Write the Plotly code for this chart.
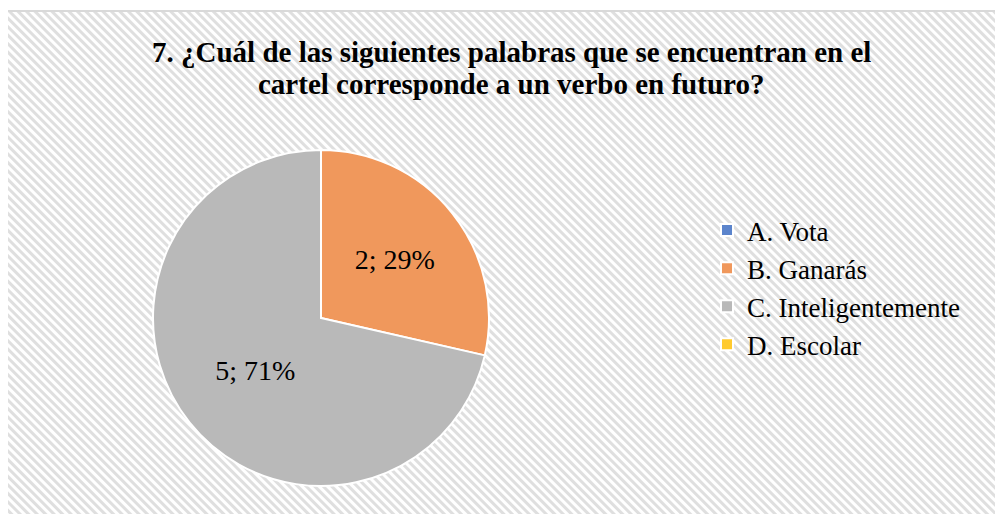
import plotly.graph_objects as go
import urllib.parse

# data
labels = ["A. Vota", "B. Ganarás", "C. Inteligentemente", "D. Escolar"]
values = [0, 2, 5, 0]
colors = ["#5B84CC", "#F0985C", "#B9B9B9", "#FFCA2E"]

title_lines = ["7. ¿Cuál de las siguientes palabras que se encuentran en el",
               "cartel corresponde a un verbo en futuro?"]

W, H = 1003, 514
OFF = 8  # the page body has an 8px margin
SERIF = "Times New Roman, Liberation Serif, serif"


def px(x):
    return (x - OFF) / W


def py(y):
    return 1 - (y - OFF) / H


# hide the label of empty slices
templates = ["%{value}; %{percent:.0%}" if v > 0 else "" for v in values]

# diagonal hatch background as an inline svg
hatch_svg = (
    "<svg xmlns='http://www.w3.org/2000/svg' width='1003' height='514'>"
    "<defs><pattern id='p' width='6' height='6' patternUnits='userSpaceOnUse' "
    "patternTransform='rotate(-45)'><rect width='3' height='6' fill='#dfdfdf'/></pattern></defs>"
    "<rect width='100%' height='100%' fill='url(#p)'/></svg>"
)
hatch_uri = "data:image/svg+xml;charset=utf-8," + urllib.parse.quote(hatch_svg)

fig = go.Figure()
fig.add_trace(go.Pie(
    labels=labels,
    values=values,
    sort=False,
    direction="clockwise",
    rotation=0,
    marker=dict(colors=colors, line=dict(color="white", width=2)),
    texttemplate=templates,
    textposition="inside",
    insidetextorientation="horizontal",
    textfont=dict(family=SERIF, size=28, color="black"),
    hoverinfo="skip",
    domain=dict(x=[px(153), px(489)], y=[py(486), py(150)]),
    showlegend=True,
))

# title written as two lines so the line gap matches
for line, yc in zip(title_lines, [52, 84]):
    fig.add_annotation(text=line, xref="paper", yref="paper", x=px(511), y=py(yc),
                       xanchor="center", yanchor="middle", showarrow=False,
                       font=dict(family=SERIF, size=29, color="black", weight=700))

fig.update_layout(
    width=W, height=H,
    margin=dict(l=0, r=0, t=0, b=0),
    font=dict(family=SERIF, color="black"),
    paper_bgcolor="white",
    plot_bgcolor="white",
    legend=dict(x=px(707), y=py(287.5), xanchor="left", yanchor="middle",
                bgcolor="rgba(0,0,0,0)",
                font=dict(family=SERIF, size=27, color="black")),
    images=[dict(source=hatch_uri, xref="paper", yref="paper",
                 x=px(7), y=py(11), sizex=1, sizey=1,
                 sizing="stretch", xanchor="left", yanchor="top", layer="below")],
    shapes=[dict(type="rect", xref="paper", yref="paper",
                 x0=px(7), y0=-0.02, x1=1.02, y1=py(11),
                 line=dict(color="#d9d9d9", width=2), fillcolor="rgba(0,0,0,0)")],
)

fig.write_html("out.html")
